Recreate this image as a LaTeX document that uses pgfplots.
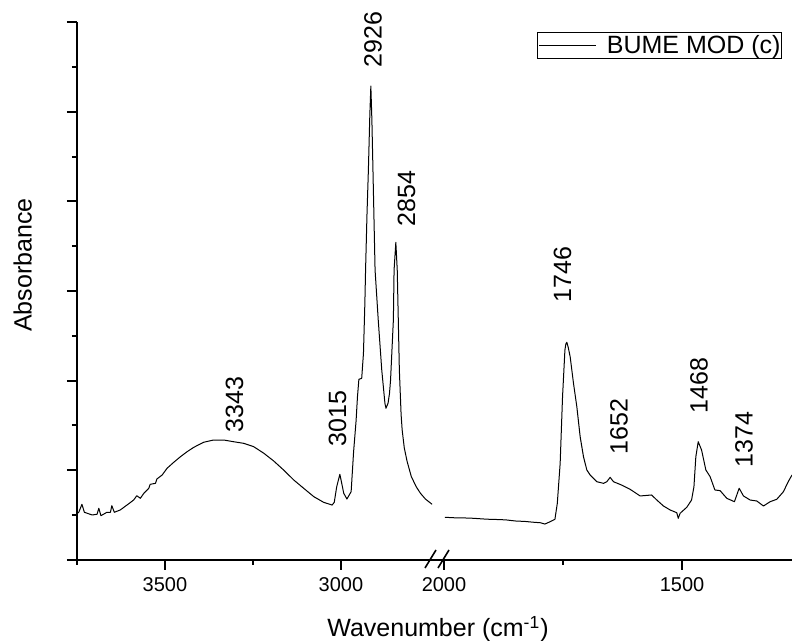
\documentclass[border=0pt]{standalone}
\usepackage{pgfplots}
\usepackage{pgfplotstable}
\pgfplotsset{compat=1.18}
\usepackage{fontspec}
\setmainfont{Liberation Sans}

\pgfplotstableread{
wn A
3749 0.521
3745 0.532
3736 0.621
3729 0.532
3707 0.502
3693 0.510
3688 0.577
3682 0.494
3665 0.532
3655 0.532
3651 0.606
3644 0.532
3627 0.558
3608 0.613
3589 0.669
3580 0.717
3570 0.688
3560 0.744
3546 0.800
3542 0.844
3527 0.855
3523 0.903
3508 0.948
3494 1.023
3475 1.090
3456 1.152
3437 1.208
3418 1.257
3390 1.313
3362 1.338
3333 1.338
3305 1.319
3276 1.301
3248 1.264
3219 1.190
3191 1.104
3163 1.004
3134 0.892
3106 0.800
3077 0.706
3049 0.643
3025 0.613
3019 0.643
3012 0.817
3003 0.956
2992 0.744
2983 0.680
2971 0.762
2964 1.208
2957 1.55
2953 1.821
2949 2.015
2941 2.026
2936 2.305
2932 2.863
2930 3.234
2926 3.85
2922 4.349
2918 4.95
2915 5.286
2912 4.90
2909 4.349
2903 3.234
2894 2.677
2884 2.119
2875 1.748
2872 1.692
2866 1.75
2862 1.859
2859 2.007
2851 2.677
2849 3.234
2844 3.543
2840 3.234
2834 2.119
2829 1.62
2826 1.45
2820 1.25
2812 1.10
2800 0.93
2793 0.873
2785 0.81
2774 0.744
2760 0.68
2741 0.621
}\leftdata

\pgfplotstableread{
wn A
1998 0.476
1975 0.470
1950 0.468
1938 0.465
1910 0.455
1880 0.450
1868 0.446
1850 0.435
1830 0.430
1810 0.420
1798 0.416
1788 0.401
1780 0.420
1772 0.440
1767 0.454
1762 0.632
1756 1.078
1751 1.821
1746 2.342
1744 2.41
1742 2.428
1739 2.37
1735 2.267
1728 1.971
1721 1.710
1714 1.375
1707 1.152
1700 1.004
1693 0.948
1679 0.873
1665 0.855
1658 0.873
1651 0.922
1644 0.873
1627 0.836
1609 0.788
1588 0.714
1564 0.725
1553 0.669
1539 0.602
1525 0.558
1511 0.527
1508 0.465
1504 0.521
1490 0.588
1480 0.669
1475 0.817
1471 1.152
1466 1.319
1459 1.227
1450 1.004
1441 0.929
1431 0.781
1420 0.773
1406 0.688
1390 0.650
1380 0.800
1371 0.714
1357 0.669
1343 0.658
1329 0.602
1315 0.650
1301 0.677
1287 0.762
1277 0.873
1269 0.948
}\rightdata

\pgfplotsset{
  common/.style={
    scale only axis, height=269pt, ymin=0, ymax=6,
    x dir=reverse, clip=false,
    axis x line*=bottom,
    tick align=outside,
    major tick length=5pt, minor tick length=2.5pt,
    tick style={black, line width=1pt},
    axis line style={black, line width=1pt},
    tick label style={font=\fontsize{10}{12}\selectfont},
    /pgf/number format/assume math mode=true,
    /pgf/number format/1000 sep={},
    anchor=south west,
  },
}
\tikzset{pk/.style={rotate=90, anchor=west, inner sep=0pt, font=\fontsize{12.5}{15}\selectfont}}

\begin{document}
\begin{tikzpicture}
\useasboundingbox (0pt,0pt) rectangle (396pt,320.5pt);

\begin{axis}[common, at={(38.5pt,40.5pt)}, width=181.5pt,
  xmin=2718.5, xmax=3750,
  xtick={3500,3000}, minor xtick={3750,3250},
  axis y line*=left,
  ytick={0,1,2,3,4,5,6}, minor ytick={0.5,1.5,2.5,3.5,4.5,5.5},
  yticklabels={}]
\addplot[black, line width=0.5pt, line join=round] table[x=wn, y=A] {\leftdata};
\node[pk] at (axis cs:3302.4,1.416) {3343};
\node[pk] at (axis cs:3009.7,1.260) {3015};
\node[pk] at (axis cs:2908.9,5.487) {2926};
\node[pk] at (axis cs:2813.7,3.714) {2854};
\end{axis}

\begin{axis}[common, at={(220pt,40.5pt)}, width=176pt,
  xmin=1269, xmax=2008.4,
  xtick={2000,1500}, minor xtick={1750},
  axis y line=none,
  legend style={at={(0.9716,0.9814)}, anchor=north east, draw=black,
    line width=0.5pt, inner xsep=0.5pt, inner ysep=1.2pt,
    font=\fontsize{12.5}{15}\selectfont, nodes={inner sep=0pt}},
  legend image code/.code={\draw[#1, line width=0.5pt] (0pt,0pt) -- (28.5pt,0pt); \path (33.5pt,0pt);}]
\addplot[black, line width=0.5pt, line join=round] table[x=wn, y=A] {\rightdata};
\addlegendentry{BUME MOD (c)}
\node[pk] at (axis cs:1751.1,2.866) {1746};
\node[pk] at (axis cs:1632.4,1.171) {1652};
\node[pk] at (axis cs:1464.3,1.628) {1468};
\node[pk] at (axis cs:1369.8,1.026) {1374};
\end{axis}

\draw[black, line width=0.8pt] (212.5pt,36.5pt) -- (218pt,45.5pt);
\draw[black, line width=0.8pt] (219pt,36.5pt) -- (224.5pt,45.5pt);

\node[anchor=base, inner sep=0pt, font=\fontsize{12.5}{15}\selectfont] at (219pt,2pt) {Wavenumber (cm\textsuperscript{-1})};
\node[rotate=90, anchor=base, inner sep=0pt, font=\fontsize{12.5}{15}\selectfont] at (15.85pt,188pt) {Absorbance};
\end{tikzpicture}
\end{document}
